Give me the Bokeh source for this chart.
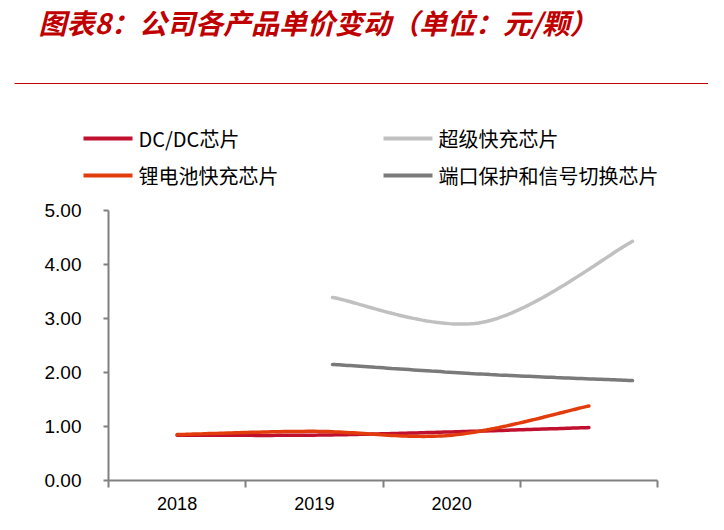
import numpy as np
from bokeh.plotting import figure
from bokeh.layouts import column
from bokeh.models import Range1d, FixedTicker, Label, LinearAxis
from bokeh.embed import file_html
from bokeh.resources import INLINE

# ---------------- data ----------------
categories = ["2018", "2019", "2020", ""]
dcdc = [0.84, 0.84, 0.90, 0.98]          # DC/DC芯片
lithium = [0.85, 0.91, 0.84, 1.38]       # 锂电池快充芯片
super_fast = [3.39, 2.93, 4.43]          # 超级快充芯片 (2019-2021)
port_prot = [2.15, 1.97, 1.85]           # 端口保护和信号切换芯片 (2019-2021)
y_ticks = [0, 1, 2, 3, 4, 5]

title_text = "图表8：公司各产品单价变动（单位：元/颗）"
names = ["DC/DC芯片", "超级快充芯片", "锂电池快充芯片", "端口保护和信号切换芯片"]
colors = ["#C0102E", "#C0C0C0", "#E23C0C", "#7A7A7A"]

CJK = "Noto Sans CJK SC"
LAT = "Liberation Sans"
W = 708
HEAD_H = 190


def smooth(xs, ys, n=40):
    P = np.column_stack([np.asarray(xs, float), np.asarray(ys, float)])
    out = []
    for i in range(len(P) - 1):
        p0 = P[i - 1] if i > 0 else P[i]
        p1, p2 = P[i], P[i + 1]
        p3 = P[i + 2] if i + 2 < len(P) else P[i + 1]
        c1 = p1 + (p2 - p0) / 6.0
        c2 = p2 - (p3 - p1) / 6.0
        t = np.linspace(0, 1, n)[:, None]
        seg = (1 - t) ** 3 * p1 + 3 * (1 - t) ** 2 * t * c1 + 3 * (1 - t) * t ** 2 * c2 + t ** 3 * p2
        out.append(seg if i == 0 else seg[1:])
    pts = np.vstack(out)
    return pts[:, 0], pts[:, 1]


# ---------------- header (title, rule, legend) ----------------
head = figure(width=W, height=HEAD_H, output_backend="svg", toolbar_location=None,
              x_range=Range1d(0, W), y_range=Range1d(HEAD_H, 0),
              min_border=0, x_axis_type=None, y_axis_type=None)
head.frame_align = False
head.outline_line_color = None
head.xgrid.visible = False
head.ygrid.visible = False

head.add_layout(Label(x=38, y=21, text=title_text, text_font=CJK, text_font_size="28px",
                      text_font_style="bold italic", text_color="#C00000",
                      text_baseline="middle"))
head.segment(x0=[14], y0=[83], x1=[W], y1=[83], line_color="#C00000", line_width=1)

leg_pos = [(83, 138), (383, 138), (83, 175), (383, 175)]
for (lx, ly), nm, col in zip(leg_pos, names, colors):
    head.segment(x0=[lx], y0=[ly], x1=[lx + 49], y1=[ly], line_color=col, line_width=4)
    head.add_layout(Label(x=lx + 55, y=ly, text=nm, text_font=CJK, text_font_size="20px",
                          text_color="black", text_baseline="middle"))

# ---------------- chart ----------------
p = figure(width=W, height=514 - HEAD_H, output_backend="svg", toolbar_location=None,
           x_range=Range1d(0, len(categories)), y_range=Range1d(0, 5),
           min_border_left=108, min_border_right=W - 657, min_border_top=20,
           min_border_bottom=34, x_axis_type=None, y_axis_type=None)
p.frame_align = False
p.outline_line_color = None
p.xgrid.visible = False
p.ygrid.visible = False

# secondary x range for the 2019-2021 grey series
p.extra_x_ranges = {"x2": Range1d(-224 / 150, -224 / 150 + 549 / 150)}

AX = "#808080"
xcenters = [i + 0.5 for i in range(len(categories))]
xaxis = LinearAxis(ticker=FixedTicker(ticks=xcenters, minor_ticks=list(range(len(categories) + 1))),
                   major_label_overrides={c: lab for c, lab in zip(xcenters, categories)})
xaxis.axis_line_color = AX
xaxis.axis_line_width = 2
xaxis.major_tick_out = 0
xaxis.major_tick_in = 0
xaxis.minor_tick_out = 7
xaxis.minor_tick_in = 0
xaxis.minor_tick_line_color = AX
xaxis.minor_tick_line_width = 2
xaxis.major_label_standoff = 9
xaxis.major_label_text_font = LAT
xaxis.major_label_text_font_size = "18px"
xaxis.major_label_text_color = "black"
p.add_layout(xaxis, "below")

yaxis = LinearAxis(ticker=FixedTicker(ticks=y_ticks, minor_ticks=[]),
                   major_label_overrides={v: f"{v:.2f}" for v in y_ticks})
yaxis.axis_line_color = AX
yaxis.axis_line_width = 2
yaxis.major_tick_out = 5
yaxis.major_tick_in = 0
yaxis.major_tick_line_color = AX
yaxis.major_tick_line_width = 2
yaxis.major_label_standoff = 22
yaxis.major_label_text_font = LAT
yaxis.major_label_text_font_size = "19px"
yaxis.major_label_text_color = "black"
p.add_layout(yaxis, "left")

xs, ys = smooth(xcenters, dcdc)
p.line(xs, ys, line_color=colors[0], line_width=3.5, line_cap="round")
xs, ys = smooth(list(range(len(super_fast))), super_fast)
p.line(xs, ys, line_color=colors[1], line_width=3.5, line_cap="round", x_range_name="x2")
xs, ys = smooth(list(range(len(port_prot))), port_prot)
p.line(xs, ys, line_color=colors[3], line_width=3.5, line_cap="round", x_range_name="x2")
xs, ys = smooth(xcenters, lithium)
p.line(xs, ys, line_color=colors[2], line_width=3.5, line_cap="round")

layout = column(head, p, spacing=0)
open("out.html", "w").write(file_html(layout, INLINE))
